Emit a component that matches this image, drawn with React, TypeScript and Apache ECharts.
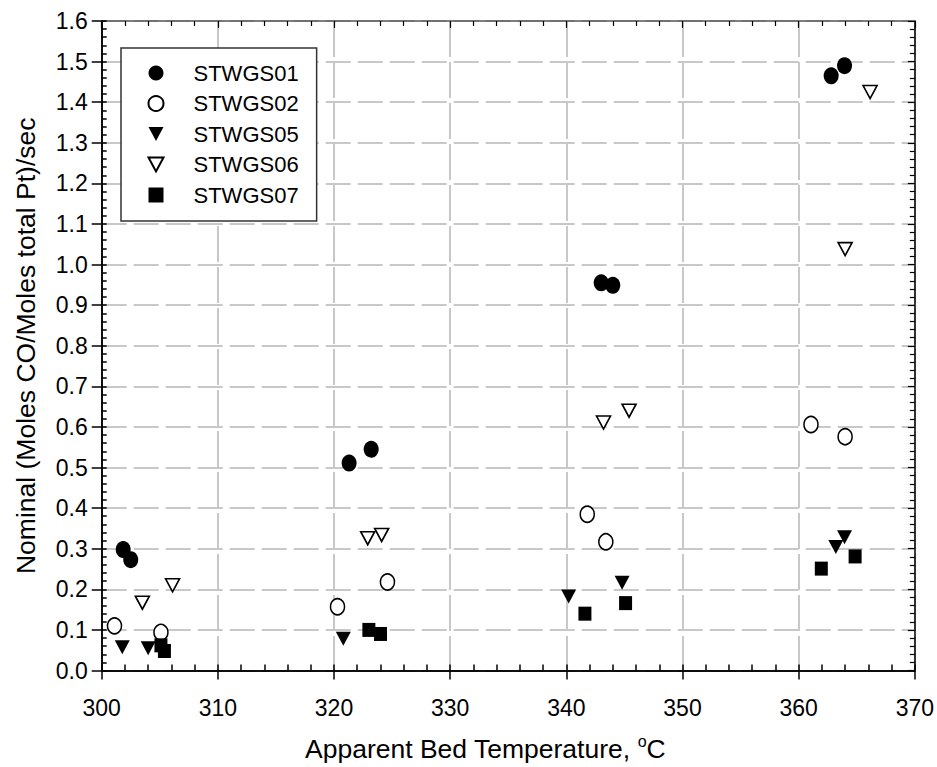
import React, { useEffect, useRef } from "react";
import * as echarts from "echarts";

const FONT = '"Liberation Sans", Arial, Helvetica, sans-serif';

const seriesNames = ["STWGS01", "STWGS02", "STWGS05", "STWGS06", "STWGS07"];

const stwgs01 = [
  [301.85, 0.298], [302.5, 0.273], [321.3, 0.511], [323.2, 0.545],
  [343.0, 0.955], [344.0, 0.949], [362.8, 1.465], [363.95, 1.49],
];
const stwgs02 = [
  [301.1, 0.11], [305.1, 0.094], [320.3, 0.157], [324.6, 0.218],
  [341.8, 0.385], [343.4, 0.317], [361.06, 0.606], [364.0, 0.576],
];
const stwgs05 = [
  [301.77, 0.057], [304.0, 0.055], [320.8, 0.078], [340.2, 0.182],
  [344.8, 0.216], [363.2, 0.304], [363.95, 0.328],
];
const stwgs06 = [
  [303.5, 0.167], [306.1, 0.21], [322.9, 0.326], [324.1, 0.334],
  [343.2, 0.611], [345.4, 0.64], [364.0, 1.038], [366.15, 1.425],
];
const stwgs07 = [
  [305.1, 0.062], [305.4, 0.048], [323.0, 0.1], [324.0, 0.09],
  [341.6, 0.14], [345.1, 0.166], [361.95, 0.251], [364.86, 0.281],
];

const xMin = 300, xMax = 370, xStep = 10;
const yMin = 0, yMax = 1.6, yStep = 0.1;

const xTitle = "Apparent Bed Temperature, {sup|o}C";
const yTitle = "Nominal (Moles CO/Moles total Pt)/sec";

const DOWN_TRI = "path://M0,0L14,0L7,13Z";

export default function App() {
  const ref = useRef<HTMLDivElement>(null);
  useEffect(() => {
    if (!ref.current) return;
    const chart = echarts.init(ref.current, null, { renderer: "svg" });
    const black = "#000";
    const base = { type: "value", min: xMin, max: xMax, interval: xStep, gridIndex: 0 };
    const ybase = { type: "value", min: yMin, max: yMax, interval: yStep, gridIndex: 0 };
    const filled = { color: black, opacity: 1 };
    const open = { color: "#fff", borderColor: black, borderWidth: 1.6, opacity: 1 };
    const option: any = {
      animation: false,
      backgroundColor: "#fff",
      textStyle: { fontFamily: FONT },
      grid: { left: 101.7, right: 20, top: 21, bottom: 90, containLabel: false },
      legend: {
        show: true,
        orient: "vertical",
        left: 121,
        top: 48,
        padding: [14, 18, 15, 26.5],
        itemGap: 8.5,
        itemWidth: 15,
        itemHeight: 15,
        backgroundColor: "#fff",
        borderColor: "#333",
        borderWidth: 1.5,
        textStyle: { fontSize: 22, fontFamily: FONT, color: black, padding: [0, 0, 0, 25] },
        data: seriesNames,
      },
      xAxis: [
        {
          ...base,
          position: "bottom",
          axisLine: { show: true, onZero: false, lineStyle: { color: black, width: 1.5 } },
          axisTick: { show: true, inside: true, length: 6, lineStyle: { color: black, width: 1.5 } },
          minorTick: { show: true, splitNumber: 5, length: 6, lineStyle: { color: black, width: 1.5 } },
          axisLabel: { fontSize: 23, color: black, fontFamily: FONT, margin: 26 },
          splitLine: { show: true, lineStyle: { color: "#c8c8c8", width: 2, type: [36, 5] } },
          name: xTitle,
          nameLocation: "middle",
          nameGap: 63,
          nameTextStyle: {
            fontSize: 26.5,
            color: black,
            fontFamily: FONT,
            padding: [0, 46, 0, 0],
            rich: { sup: { fontSize: 16, verticalAlign: "top", padding: [0, 0, 14, 0], color: black, fontFamily: FONT } },
          },
        },
        {
          ...base,
          position: "bottom",
          axisLine: { show: true, onZero: false, lineStyle: { color: black, width: 1.5 } },
          axisTick: { show: true, inside: false, length: 9, lineStyle: { color: black, width: 1.5 } },
          axisLabel: { show: false },
          splitLine: { show: false },
        },
        {
          ...base,
          position: "top",
          axisLine: { show: true, onZero: false, lineStyle: { color: "#555", width: 1.5 } },
          axisTick: { show: true, inside: true, length: 7, lineStyle: { color: black, width: 1.2 } },
          minorTick: { show: true, splitNumber: 5, length: 5, lineStyle: { color: black, width: 1.2 } },
          axisLabel: { show: false },
          splitLine: { show: false },
        },
      ],
      yAxis: [
        {
          ...ybase,
          position: "left",
          axisLine: { show: true, onZero: false, lineStyle: { color: black, width: 1.5 } },
          axisTick: { show: true, inside: true, length: 5, lineStyle: { color: black, width: 1.5 } },
          minorTick: { show: true, splitNumber: 5, length: 5, lineStyle: { color: black, width: 1.5 } },
          axisLabel: {
            fontSize: 23,
            color: black,
            fontFamily: FONT,
            margin: 14,
            formatter: (v: number) => v.toFixed(1),
          },
          splitLine: { show: true, lineStyle: { color: "#c8c8c8", width: 2, type: [25, 7] } },
          name: yTitle,
          nameLocation: "middle",
          nameGap: 62,
          nameTextStyle: { fontSize: 26.5, color: black, fontFamily: FONT },
        },
        {
          ...ybase,
          position: "left",
          axisLine: { show: true, onZero: false, lineStyle: { color: black, width: 1.5 } },
          axisTick: { show: true, inside: false, length: 10, lineStyle: { color: black, width: 1.5 } },
          axisLabel: { show: false },
          splitLine: { show: false },
        },
        {
          ...ybase,
          position: "right",
          axisLine: { show: true, onZero: false, lineStyle: { color: black, width: 1.5 } },
          axisTick: { show: true, inside: true, length: 7, lineStyle: { color: black, width: 1.2 } },
          minorTick: { show: true, splitNumber: 5, length: 5, lineStyle: { color: black, width: 1.2 } },
          axisLabel: { show: false },
          splitLine: { show: false },
        },
      ],
      series: [
        { name: seriesNames[0], type: "scatter", data: stwgs01, symbol: "circle", symbolSize: [15, 17], itemStyle: filled },
        { name: seriesNames[1], type: "scatter", data: stwgs02, symbol: "circle", symbolSize: [14, 16], itemStyle: open },
        { name: seriesNames[2], type: "scatter", data: stwgs05, symbol: DOWN_TRI, symbolSize: [15, 14], itemStyle: filled },
        { name: seriesNames[3], type: "scatter", data: stwgs06, symbol: DOWN_TRI, symbolSize: [14, 13], itemStyle: open },
        { name: seriesNames[4], type: "scatter", data: stwgs07, symbol: "rect", symbolSize: [13, 14], itemStyle: filled },
      ].map((s) => ({ ...s, xAxisIndex: 0, yAxisIndex: 0, emphasis: { disabled: true } })),
    };
    chart.setOption(option);
    return () => chart.dispose();
  }, []);
  return (
    <div
      ref={ref}
      style={{ position: "fixed", left: 0, top: 0, width: 937, height: 767, background: "#fff" }}
    />
  );
}
